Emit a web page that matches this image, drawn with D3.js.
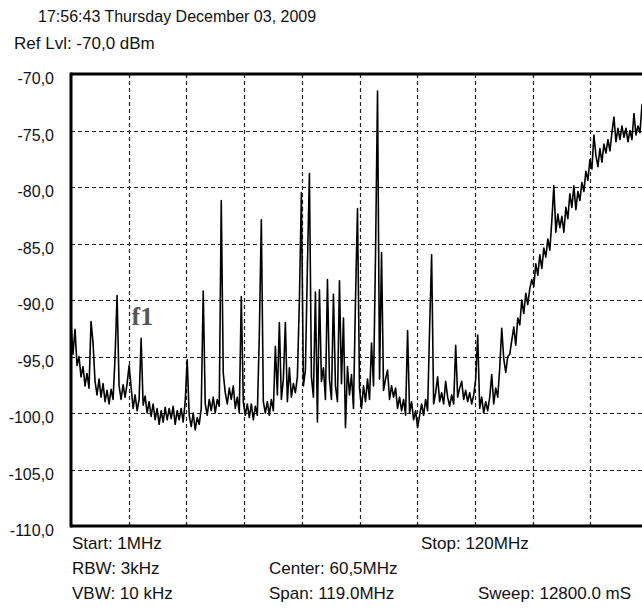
<!DOCTYPE html>
<html><head><meta charset="utf-8">
<script src="https://cdn.jsdelivr.net/npm/d3@7/dist/d3.min.js"></script>
<style>html,body{margin:0;padding:0;background:#fff;overflow:hidden}</style>
</head><body><svg id="c" width="642" height="609"></svg>
<script>
// ---- data ----
const startMHz = 1, stopMHz = 120;
const refLevel = -70, bottomLevel = -110;
const yTicks = [-70, -75, -80, -85, -90, -95, -100, -105, -110];
const yTickLabels = ["-70,0", "-75,0", "-80,0", "-85,0", "-90,0", "-95,0", "-100,0", "-105,0", "-110,0"];
const xGridMHz = [12.9, 24.8, 36.7, 48.6, 60.5, 72.4, 84.3, 96.2, 108.1, 120];
const headerLines = ["17:56:43 Thursday December 03, 2009", "Ref Lvl: -70,0 dBm"];
const footerCol1 = ["Start: 1MHz", "RBW: 3kHz", "VBW: 10 kHz"];
const footerCol2 = ["", "Center: 60,5MHz", "Span: 119.0MHz"];
const footerCol3 = ["Stop: 120MHz", "", "Sweep: 12800.0 mS"];
const markerLabel = "f1";
const markerMHz = 13.5, markerDbm = -92.2;
// trace levels (dBm), evenly spaced sweep points from startMHz to stopMHz
const levels = [
-92.0,-94.8,-92.6,-95.8,-95.0,-96.8,-95.9,-97.6,-96.5,-97.8,
-91.9,-93.8,-97.2,-98.4,-97.0,-98.6,-97.4,-99.0,-98.0,-99.2,
-97.9,-98.8,-95.0,-89.6,-97.6,-98.8,-97.5,-98.6,-97.4,-95.8,
-97.7,-99.6,-98.4,-99.8,-98.8,-93.4,-99.3,-98.5,-100.0,-99.0,
-100.3,-99.2,-100.6,-99.6,-101.0,-99.8,-100.8,-99.5,-100.6,-99.6,
-100.5,-99.4,-101.0,-99.8,-100.6,-99.6,-100.8,-99.0,-95.3,-100.2,
-101.2,-100.0,-101.5,-100.4,-101.0,-99.6,-89.2,-99.2,-100.2,-98.8,
-99.8,-98.6,-100.0,-98.8,-99.4,-81.2,-96.5,-98.2,-99.2,-97.8,
-98.8,-97.6,-99.6,-98.6,-100.0,-89.7,-99.0,-100.2,-99.2,-100.4,
-99.2,-100.6,-99.4,-100.2,-93.0,-82.9,-99.0,-100.0,-99.0,-100.2,
-98.8,-99.8,-94.1,-98.4,-92.0,-98.8,-97.0,-92.0,-99.0,-96.0,
-98.6,-97.4,-98.2,-96.8,-90.0,-80.5,-97.6,-96.2,-87.0,-78.8,
-96.8,-98.6,-89.3,-100.8,-89.1,-97.2,-96.0,-98.8,-88.2,-97.0,
-98.8,-89.5,-97.6,-99.0,-88.3,-97.4,-91.6,-101.3,-95.9,-98.4,
-96.6,-99.6,-90.0,-81.9,-97.8,-99.6,-97.6,-99.0,-97.0,-98.8,
-93.8,-97.6,-86.0,-71.5,-97.0,-85.8,-98.0,-97.0,-96.2,-98.8,
-97.6,-98.6,-97.8,-99.6,-98.6,-99.8,-98.8,-100.2,-92.7,-100.0,
-99.0,-100.6,-99.8,-101.3,-100.2,-99.2,-100.2,-98.8,-99.8,-92.5,
-86.0,-99.2,-98.2,-96.8,-99.0,-98.2,-99.2,-97.2,-98.6,-99.4,
-98.4,-99.2,-94.0,-98.6,-97.8,-97.2,-98.8,-98.0,-99.0,-98.2,
-99.2,-98.4,-97.0,-93.1,-99.6,-98.6,-100.0,-99.0,-99.8,-98.6,
-96.6,-99.2,-97.8,-98.6,-96.0,-92.5,-95.2,-96.4,-95.0,-94.8,
-93.6,-92.4,-94.0,-91.6,-92.2,-90.0,-91.2,-89.4,-90.4,-89.0,
-88.2,-88.8,-86.8,-87.8,-86.0,-87.2,-85.4,-86.2,-84.6,-85.6,
-83.0,-79.9,-84.0,-82.4,-83.6,-82.6,-84.0,-81.8,-82.8,-80.6,
-81.8,-79.9,-82.0,-80.4,-81.2,-79.6,-80.4,-78.6,-79.4,-77.6,
-78.4,-75.4,-77.2,-78.2,-76.6,-77.8,-76.2,-77.0,-75.8,-76.8,
-75.2,-73.8,-76.0,-74.8,-75.8,-74.6,-75.6,-74.8,-76.0,-75.0,
-75.8,-73.5,-75.4,-74.6,-75.2,-72.7,-74.4,-73.8,-74.2
];

// ---- drawing ----
const svg = d3.select("#c");
const pLeft = 71, pRight = 648, pTop = 74, pBottom = 526;
const x = d3.scaleLinear().domain([startMHz, stopMHz]).range([pLeft, pRight]);
const y = d3.scaleLinear().domain([bottomLevel, refLevel]).range([pBottom, pTop]);
const step = (stopMHz - startMHz) / (levels.length - 1);
const font = "'Liberation Sans', Arial, sans-serif";

// header
svg.selectAll("text.hdr").data(headerLines).join("text")
  .attr("class", "hdr")
  .attr("x", (d, i) => i === 0 ? 38 : 14)
  .attr("y", (d, i) => i === 0 ? 22 : 49)
  .attr("font-family", font).attr("font-size", (d, i) => i === 0 ? 16 : 17).attr("fill", "#111")
  .text(d => d);

// grid
const grid = svg.append("g");
grid.selectAll("line.h").data(yTicks.slice(1, -1)).join("line")
  .attr("x1", pLeft).attr("x2", 642)
  .attr("y1", d => Math.round(y(d)) + 0.5).attr("y2", d => Math.round(y(d)) + 0.5)
  .attr("stroke", "#222").attr("stroke-width", 1.2).attr("stroke-dasharray", "4,3");
grid.selectAll("line.v").data(xGridMHz).join("line")
  .attr("x1", d => Math.round(x(d)) + 0.5).attr("x2", d => Math.round(x(d)) + 0.5)
  .attr("y1", pTop).attr("y2", pBottom)
  .attr("stroke", "#222").attr("stroke-width", 1.2).attr("stroke-dasharray", "4,3");

// y axis labels
const yAxis = d3.axisLeft(y).tickValues(yTicks).tickSize(0).tickPadding(0)
  .tickFormat((d, i) => yTickLabels[i]);
const ga = svg.append("g").attr("transform", "translate(54,0)").call(yAxis);
ga.select(".domain").remove();
ga.selectAll("text").attr("font-family", font).attr("font-size", 16).attr("fill", "#111")
  .attr("dy", "0.62em");

// trace
const line = d3.line().x((d, i) => x(startMHz + i * step)).y(d => y(d));
svg.append("path").datum(levels).attr("d", line)
  .attr("fill", "none").attr("stroke", "#000").attr("stroke-width", 1.6)
  .attr("stroke-linejoin", "round");

// frame
svg.append("line").attr("x1", pLeft).attr("x2", 642).attr("y1", pTop).attr("y2", pTop)
  .attr("stroke", "#000").attr("stroke-width", 3);
svg.append("line").attr("x1", pLeft).attr("x2", 642).attr("y1", pBottom).attr("y2", pBottom)
  .attr("stroke", "#000").attr("stroke-width", 3);
svg.append("line").attr("x1", pLeft).attr("x2", pLeft).attr("y1", pTop - 1.5).attr("y2", pBottom + 1.5)
  .attr("stroke", "#000").attr("stroke-width", 3);

// marker label
svg.append("text").attr("x", x(markerMHz)).attr("y", y(markerDbm))
  .attr("font-family", "'Liberation Serif', 'Times New Roman', serif")
  .attr("font-weight", "bold").attr("font-size", 26).attr("fill", "#555")
  .text(markerLabel);

// footer
const rowsY = [549, 574, 599];
[[footerCol1, 72], [footerCol2, 269], [footerCol3, 421]].forEach(([col, cx], c) => {
  svg.append("g").selectAll("text").data(col).join("text")
    .attr("x", (d, i) => (c === 2 && i === 2) ? 478 : cx)
    .attr("y", (d, i) => rowsY[i])
    .attr("font-family", font).attr("font-size", 17).attr("fill", "#111")
    .text(d => d);
});
</script>
</body></html>
